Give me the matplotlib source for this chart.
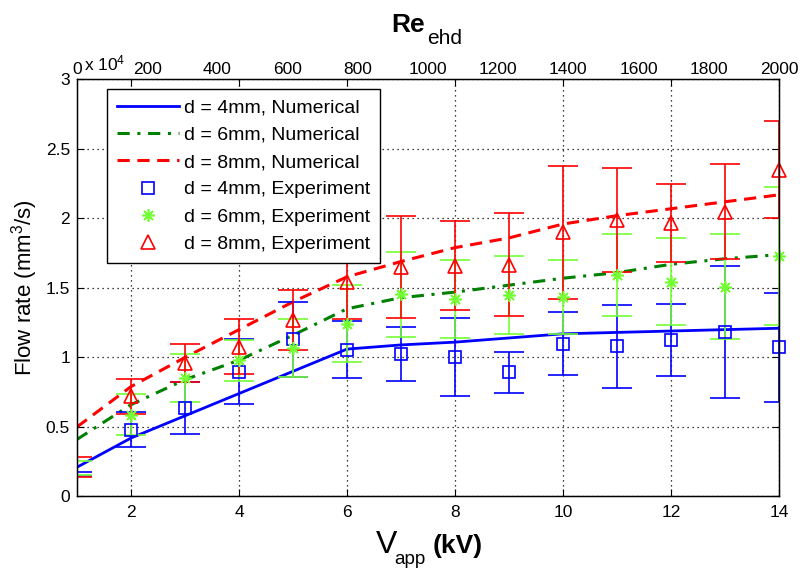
import matplotlib
matplotlib.use("Agg")
import matplotlib.pyplot as plt
import numpy as np

plt.rcParams['font.family'] = 'Liberation Sans'
plt.rcParams['mathtext.fontset'] = 'custom'
plt.rcParams['mathtext.rm'] = 'Liberation Sans'
plt.rcParams['mathtext.bf'] = 'Liberation Sans:bold'
plt.rcParams['mathtext.it'] = 'Liberation Sans:italic'

# applied voltage (kV)
V = np.arange(1, 15)

# numerical flow rates (mm^3/s)
num_4mm = [0.21, 0.42, 0.58, 0.74, 0.90, 1.06, 1.09, 1.11, 1.14, 1.17, 1.18, 1.19, 1.20, 1.21]
num_6mm = [0.41, 0.66, 0.84, 0.98, 1.16, 1.35, 1.43, 1.47, 1.52, 1.57, 1.61, 1.67, 1.71, 1.74]
num_8mm = [0.50, 0.79, 1.00, 1.20, 1.40, 1.58, 1.69, 1.79, 1.86, 1.96, 2.02, 2.07, 2.12, 2.17]

# experimental means and error half-widths
exp_4mm = [0.16, 0.48, 0.635, 0.896, 1.13, 1.056, 1.025, 1.005, 0.892, 1.10, 1.08, 1.124, 1.18, 1.073]
err_4mm = [0.015, 0.125, 0.186, 0.234, 0.27, 0.207, 0.195, 0.28, 0.148, 0.228, 0.30, 0.258, 0.475, 0.393]
exp_6mm = [0.207, 0.587, 0.852, 0.978, 1.07, 1.244, 1.454, 1.42, 1.45, 1.436, 1.59, 1.544, 1.508, 1.729]
err_6mm = [0.05, 0.147, 0.172, 0.146, 0.21, 0.276, 0.306, 0.28, 0.278, 0.264, 0.295, 0.312, 0.378, 0.497]
exp_8mm = [0.21, 0.72, 0.96, 1.076, 1.27, 1.543, 1.651, 1.66, 1.666, 1.90, 1.99, 1.966, 2.05, 2.35]
err_8mm = [0.07, 0.125, 0.137, 0.197, 0.217, 0.265, 0.366, 0.32, 0.37, 0.478, 0.374, 0.28, 0.345, 0.35]

re_ticks = np.arange(0, 2001, 200)

lime = (0.45, 1.0, 0.2)
dkgreen = (0.0, 0.5, 0.0)

fig = plt.figure(figsize=(8, 5.69), dpi=100)
ax = fig.add_axes([0.09625, 0.1276, 0.8775, 0.7327])

ax.plot(V, num_4mm, '-', color='b', lw=2, label='d = 4mm, Numerical')
ax.plot(V, num_6mm, color=dkgreen, lw=2.2, dashes=(4, 2.5, 1, 2.5), label='d = 6mm, Numerical')
ax.plot(V, num_8mm, color='r', lw=2.2, dashes=(4, 2.5), label='d = 8mm, Numerical')

for m, e, c in [(exp_4mm, err_4mm, 'b'), (exp_6mm, err_6mm, lime), (exp_8mm, err_8mm, 'r')]:
    ax.errorbar(V, m, yerr=e, fmt='none', ecolor=c, elinewidth=1.2, capsize=11, capthick=1.2)

ax.plot(V[1:], exp_4mm[1:], 's', ms=9, mfc='none', mec='b', mew=1.2, clip_on=False,
        label='d = 4mm, Experiment')
ax.plot(V[1:], exp_6mm[1:], ls='none', marker=(8, 2, 0), ms=9, mec=lime, mew=1.2, clip_on=False,
        label='d = 6mm, Experiment')
ax.plot(V[1:], exp_8mm[1:], '^', ms=10, mfc='none', mec='r', mew=1.2, clip_on=False,
        label='d = 8mm, Experiment')

ax.set_xlim(1, 14)
ax.set_ylim(0, 3)
ax.set_xticks(range(2, 15, 2))
ax.set_yticks(np.arange(0, 3.01, 0.5))
ax.set_yticklabels(['0', '0.5', '1', '1.5', '2', '2.5', '3'])
ax.set_axisbelow(True)
ax.grid(True, color='k', lw=0.9, linestyle=(0, (1, 3)))
for s in ax.spines.values():
    s.set_linewidth(1.0)

ax.set_ylabel('Flow rate (mm$^3$/s)', fontsize=16, labelpad=4)

leg = ax.legend(loc='upper left', bbox_to_anchor=(0.0427, 0.977), borderaxespad=0,
                fontsize=14, handlelength=3.2, handletextpad=0.25, labelspacing=0.5,
                borderpad=0.5, fancybox=False, framealpha=1, edgecolor='k')
leg.get_frame().set_linewidth(1.0)

# Reynolds number on the top axis
ax2 = ax.twiny()
ax2.set_xlim(0, 2000)
ax2.set_xticks(re_ticks)
ax2.tick_params(axis='x', length=0, pad=2, labelsize=12.5)

ax.tick_params(direction='in', length=5, labelsize=12.5, top=True, right=True,
               labeltop=False, pad=5)
ax.tick_params(axis='x', pad=6)

fig.text(84 / 800, 1 - 70 / 569, r'x 10$^4$', fontsize=12.5, va='baseline', ha='left')

fig.text(425 / 800, 1 - 32 / 569, 'Re', fontsize=19, fontweight='bold', ha='right', va='baseline')
fig.text(427 / 800, 1 - 44 / 569, 'ehd', fontsize=15, ha='left', va='baseline')

fig.text(397 / 800, 1 - 553 / 569, 'V', fontsize=23, ha='right', va='baseline')
fig.text(394 / 800, 1 - 564 / 569, 'app', fontsize=13.5, ha='left', va='baseline')
fig.text(433 / 800, 1 - 553 / 569, '(kV)', fontsize=19, fontweight='bold', ha='left', va='baseline')

fig.savefig('out.png', dpi=100)
